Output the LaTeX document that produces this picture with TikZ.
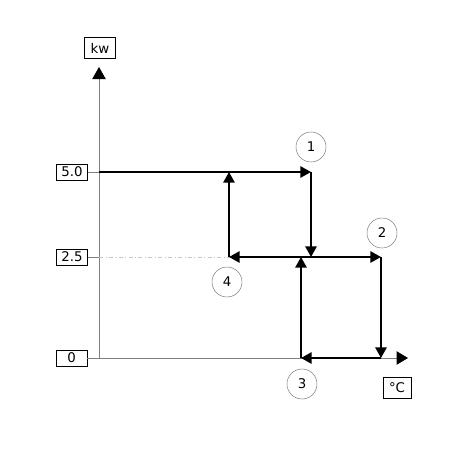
\documentclass[tikz,border=0pt]{standalone}
\usepackage{fontspec}
\setmainfont{DejaVu Sans}
\usetikzlibrary{arrows.meta}

\begin{document}
\begin{tikzpicture}[x=0.75pt, y=-0.75pt,
  every node/.style = {font=\fontsize{10}{12}\selectfont},
  level/.style = {draw, thin, inner sep=0pt, minimum width=23.5pt, minimum height=12pt},
  unit/.style = {draw, thin, inner ysep=0pt, inner xsep=4.5pt, minimum height=16pt},
  state/.style = {circle, draw=gray, thin, inner sep=0pt, minimum size=22.5pt},
  axis/.style = {draw=gray, line width=0.6pt},
  flow/.style = {line width=1.5pt, -{Triangle[length=8pt,width=8.5pt]}}]
  \useasboundingbox (0,0) rectangle (457,454);

  % axes
  \coordinate (o) at (99,358);
  \coordinate (ytop) at (99,67);
  \coordinate (xend) at (408,358);
  \coordinate (y50) at (99,172);
  \coordinate (y25) at (99,257);
  \draw[axis, -{Triangle[length=9pt,width=10pt,color=black]}] (o) -- (ytop);
  \draw[axis, -{Triangle[length=8.5pt,width=10pt,color=black]}] (o) -- (xend);
  \node[unit] (kw) at (100,48) {kw};
  \node[unit] (deg) at (397,388) {°C};

  % levels
  \node[level] (v50) at (72,172) {5.0};
  \node[level] (v25) at (72,257) {2.5};
  \node[level] (v0) at (71.5,358) {0};
  \draw[axis] (v50) -- (y50);
  \draw[axis] (v25) -- (y25);
  \draw[axis] (v0) -- (o);
  \draw[gray!45, thin, dash dot] (y25) -- (229,257);

  % corners of the loop
  \coordinate (p1) at (311,172);
  \coordinate (q1) at (311,257);
  \coordinate (p2) at (381,257);
  \coordinate (q2) at (381,358);
  \coordinate (p3) at (301,358);
  \coordinate (q3) at (301,257);
  \coordinate (p4) at (229,257);
  \coordinate (q4) at (229,172);

  \draw[flow] (y50) -- (p1);
  \draw[flow] (p1) -- (q1);
  \draw[flow] (q1) -- (p2);
  \draw[flow] (p2) -- (q2);
  \draw[flow] (q2) -- (p3);
  \draw[flow] (p3) -- (q3);
  \draw[flow] (q3) -- (p4);
  \draw[flow] (p4) -- (q4);
  \draw[line width=1.5pt] (q3) -- (q1);

  % states
  \node[state] (s1) at (311,147) {1};
  \node[state] (s2) at (382,233) {2};
  \node[state] (s3) at (302,384) {3};
  \node[state] (s4) at (227,282) {4};
\end{tikzpicture}
\end{document}
